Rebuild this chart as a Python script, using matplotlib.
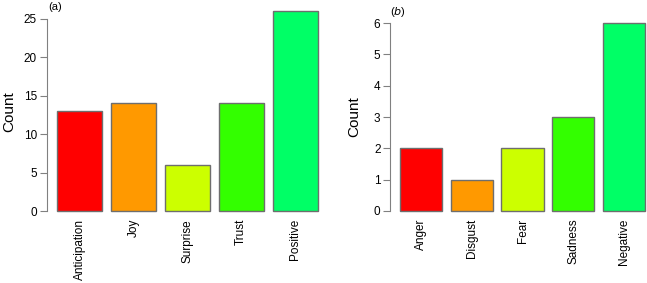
import matplotlib
matplotlib.use("Agg")
import matplotlib.pyplot as plt
import numpy as np

# panel (a): positive emotions
pos_labels = ["Anticipation", "Joy", "Surprise", "Trust", "Positive"]
pos_counts = [13, 14, 6, 14, 26]
pos_ticks = [0, 5, 10, 15, 20, 25]

# panel (b): negative emotions
neg_labels = ["Anger", "Disgust", "Fear", "Sadness", "Negative"]
neg_counts = [2, 1, 2, 3, 6]
neg_ticks = [0, 1, 2, 3, 4, 5, 6]

# R rainbow(10)[1:5]
bar_colors = ["#FF0000", "#FF9900", "#CCFF00", "#33FF00", "#00FF66"]

W, H = 647, 283
fig = plt.figure(figsize=(W / 100, H / 100), dpi=100)
plt.rcParams['font.family'] = ['Liberation Sans', 'DejaVu Sans']


def px_axes(x0, x1, ytop, ybot):
    return fig.add_axes([x0 / W, (H - ybot) / H, (x1 - x0) / W, (ybot - ytop) / H])


def draw_panel(ax, labels, counts, ticks, label_pad):
    n = len(counts)
    # R barplot layout: width 1, space 0.2
    lefts = 0.2 + 1.2 * np.arange(n)
    centers = lefts + 0.5
    ax.bar(centers, counts, width=1.0, color=bar_colors,
           edgecolor="#6e6e6e", linewidth=1.0)
    xr = (0.2, lefts[-1] + 1.0)
    pad = 0.04 * (xr[1] - xr[0])
    ax.set_xlim(xr[0] - pad, xr[1] + pad)
    top = max(counts)
    ax.set_ylim(-0.04 * top, top * 1.04)
    for s in ["top", "right", "bottom"]:
        ax.spines[s].set_visible(False)
    ax.spines["left"].set_bounds(ticks[0], ticks[-1])
    ax.spines["left"].set_color("#808080")
    ax.set_yticks(ticks)
    ax.tick_params(axis="y", length=5, color="#808080", labelsize=8.5, pad=2)
    ax.set_xticks(centers)
    ax.set_xticklabels(labels, rotation=90, fontsize=8.5)
    ax.tick_params(axis="x", length=0, pad=0)
    ax.set_ylabel("Count", fontsize=11, labelpad=label_pad)
    ax.patch.set_alpha(0)
    return ax


ax1 = px_axes(46.6, 328, 3.3, 219)
draw_panel(ax1, pos_labels, pos_counts, pos_ticks, 5)
fig.text(48 / W, 1 - 7 / H, "(a)", fontsize=8, va="center", ha="left")

ax2 = px_axes(390.2, 655, 15.5, 218.5)
draw_panel(ax2, neg_labels, neg_counts, neg_ticks, 9)
fig.text(390 / W, 1 - 12 / H, r"($\it{b}$)", fontsize=8, va="center", ha="left")

fig.savefig("out.png", dpi=100)
